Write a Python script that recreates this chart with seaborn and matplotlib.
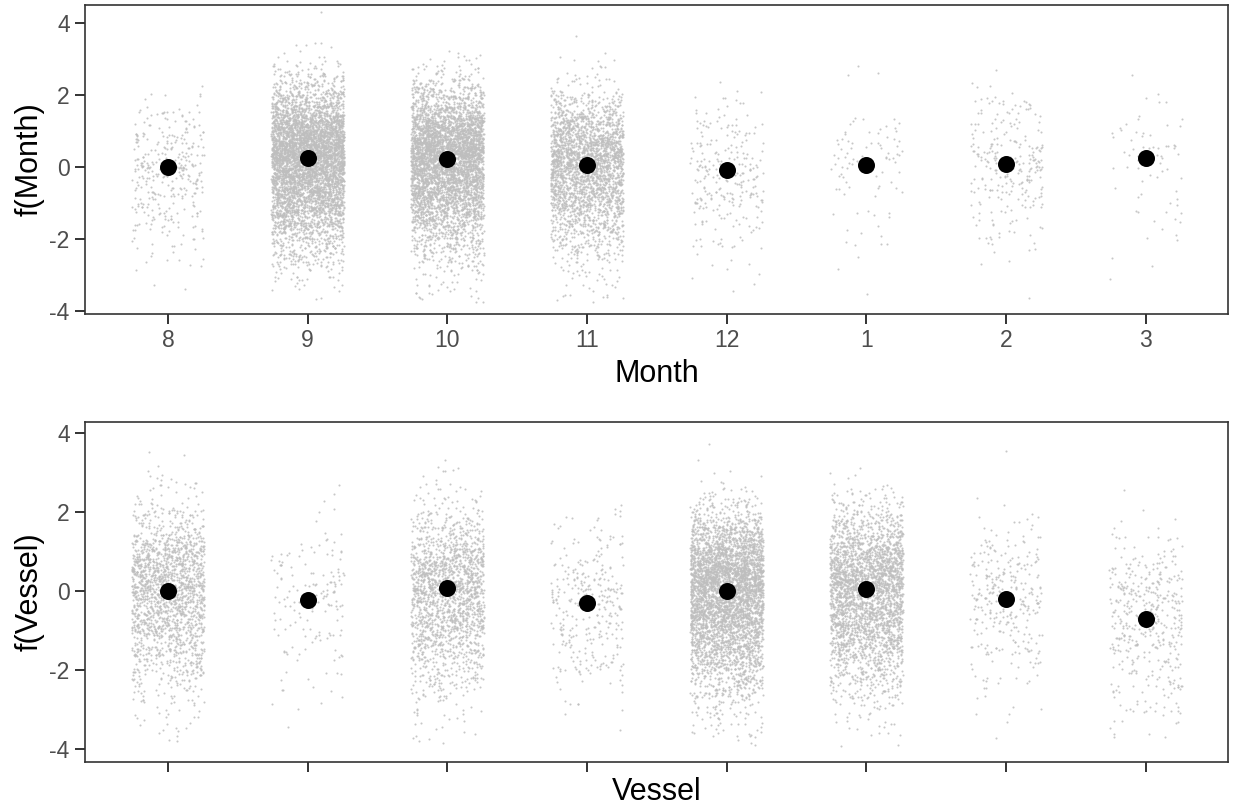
import numpy as np
import pandas as pd
import matplotlib
matplotlib.use("Agg")
import matplotlib.pyplot as plt
import seaborn as sns

# Month effect (partial effect estimates) and number of residuals per level
months = ["8", "9", "10", "11", "12", "1", "2", "3"]
month_effect = [0.00, 0.23, 0.20, 0.05, -0.10, 0.05, 0.07, 0.23]
month_n = [350, 5000, 4500, 2600, 260, 90, 260, 70]

# Vessel effect (labels suppressed on the axis)
vessels = ["V1", "V2", "V3", "V4", "V5", "V6", "V7", "V8"]
vessel_effect = [0.00, -0.23, 0.06, -0.30, 0.00, 0.04, -0.21, -0.72]
vessel_n = [1800, 160, 1800, 320, 4200, 2900, 300, 420]

# residual spread above / below the fitted effect
SD_UP, SD_DOWN = 1.0, 1.3
rng = np.random.default_rng(7)


def partial_residuals(levels, effects, counts, floor):
    rows = []
    for lev, eff, n in zip(levels, effects, counts):
        vals = []
        while len(vals) < n:
            z = rng.normal(0, 1, n)
            draw = eff + np.where(z > 0, z * SD_UP, z * SD_DOWN)
            vals.extend(draw[draw > floor].tolist())
        for v in vals[:n]:
            rows.append((lev, v))
    return pd.DataFrame(rows, columns=["level", "resid"])


month_res = partial_residuals(months, month_effect, month_n, -3.78)
vessel_res = partial_residuals(vessels, vessel_effect, vessel_n, -3.92)
month_fx = pd.DataFrame({"level": months, "effect": month_effect})
vessel_fx = pd.DataFrame({"level": vessels, "effect": vessel_effect})

sns.set_theme(style="white")
plt.rcParams["font.family"] = ["Liberation Sans", "DejaVu Sans"]

fig = plt.figure(figsize=(12.33, 8.09), dpi=100)
ax1 = fig.add_axes([0.0689, 0.6119, 0.9271, 0.3819])
ax2 = fig.add_axes([0.0689, 0.0585, 0.9271, 0.4195])

np.random.seed(3)
panels = [
    (ax1, month_res, month_fx, months, "Month", "f(Month)", (-4.09, 4.49), True, -0.194),
    (ax2, vessel_res, vessel_fx, vessels, "Vessel", "f(Vessel)", (-4.32, 4.26), False, -0.088),
]
for ax, res, fx, order, xlab, ylab, ylim, show_labels, xlab_y in panels:
    sns.stripplot(data=res, x="level", y="resid", order=order, ax=ax,
                  jitter=0.26, color="#BEBEBE", size=1.5, linewidth=0,
                  alpha=0.85, zorder=1)
    sns.scatterplot(data=fx, x="level", y="effect", ax=ax, color="black",
                    s=150, linewidth=0, zorder=3)
    ax.set_xlim(-0.595, 7.59)
    ax.set_ylim(*ylim)
    ax.set_yticks([-4, -2, 0, 2, 4])
    ax.set_yticklabels(["-4", "-2", "0", "2", "4"])
    ax.set_xticks(range(len(order)))
    ax.set_xticklabels(order if show_labels else [""] * len(order))
    ax.set_xlabel(xlab, fontsize=22, color="black", va="center")
    ax.set_ylabel(ylab, fontsize=22, color="black", va="center")
    ax.xaxis.set_label_coords(0.5, xlab_y)
    ax.yaxis.set_label_coords(-0.0486, 0.5)
    ax.tick_params(axis="both", which="major", length=7, width=1.4,
                   color="#333333", labelsize=16.5, labelcolor="#4D4D4D",
                   direction="out", pad=4, bottom=True, left=True)
    for sp in ax.spines.values():
        sp.set_visible(True)
        sp.set_color("#333333")
        sp.set_linewidth(1.2)
    ax.grid(False)

fig.savefig("out.png", dpi=100)
